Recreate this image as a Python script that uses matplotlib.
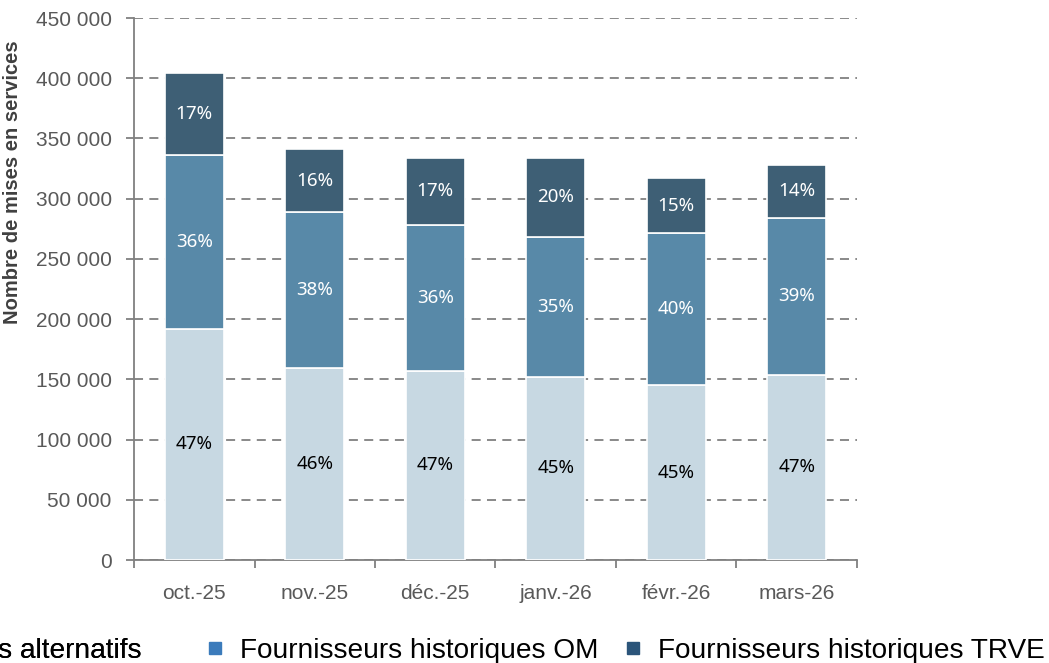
import numpy as np
import matplotlib
matplotlib.use("Agg")
import matplotlib.pyplot as plt
from matplotlib.lines import Line2D
from matplotlib.ticker import FuncFormatter, MultipleLocator

plt.rcParams['font.family'] = ['Liberation Sans', 'DejaVu Sans']

# Données (mises en services)
mois = ['oct.-25', 'nov.-25', 'déc.-25', 'janv.-26', 'févr.-26', 'mars-26']
alternatifs = [192000, 159000, 157000, 152000, 145000, 154000]
historiques_om = [144000, 130000, 121000, 116000, 126500, 130000]
historiques_trve = [68000, 52000, 56000, 66000, 45500, 44000]
pct_alt = ['47%', '46%', '47%', '45%', '45%', '47%']
pct_om = ['36%', '38%', '36%', '35%', '40%', '39%']
pct_trve = ['17%', '16%', '17%', '20%', '15%', '14%']

series = ['Fournisseurs alternatifs', 'Fournisseurs historiques OM',
          'Fournisseurs historiques TRVE']
couleurs_barres = ['#c7d8e2', '#5889a8', '#3e5f75']
couleurs_legende = ['#a9c4dc', '#3b7bbb', '#2b557a']
couleurs_texte = ['black', 'white', 'white']

fig = plt.figure(figsize=(10.49, 6.63), dpi=100)
ax = fig.add_axes([134/1049, 1 - 560/663, 723/1049, 542/663])

x = np.arange(len(mois))
bas = np.zeros(len(mois))
for valeurs, pcts, coul, ctxt in zip([alternatifs, historiques_om, historiques_trve],
                                     [pct_alt, pct_om, pct_trve],
                                     couleurs_barres, couleurs_texte):
    v = np.array(valeurs, dtype=float)
    ax.bar(x, v, bottom=bas, width=0.49, color=coul, edgecolor='white',
           linewidth=1.2, zorder=3)
    for xi, b, h, p in zip(x, bas, v, pcts):
        ax.text(xi, b + h / 2, p, ha='center', va='center', color=ctxt,
                fontsize=13.5, family=['Noto Sans', 'DejaVu Sans'], zorder=4)
    bas += v

ax.set_xlim(-0.5, len(mois) - 0.5)
ax.set_ylim(0, 450000)
ax.yaxis.set_major_locator(MultipleLocator(50000))
ax.yaxis.set_major_formatter(FuncFormatter(lambda v, p: f'{int(v):,}'.replace(',', ' ')))

ax.set_xticks(x)
ax.set_xticklabels(mois)
ax.set_xticks(np.arange(-0.5, len(mois)), minor=True)
ax.tick_params(axis='x', which='major', length=0, pad=17, labelsize=15, labelcolor='#595959')
ax.tick_params(axis='x', which='minor', length=6, width=1.3, color='#808080', direction='out')
ax.tick_params(axis='y', length=6, width=1.3, color='#808080', direction='out',
               pad=10, labelsize=15, labelcolor='#595959')

ax.grid(axis='y', color='#808080', linestyle=(0, (5, 3.5)), linewidth=1.3, zorder=0)
ax.set_axisbelow(True)
for s in ['top', 'right']:
    ax.spines[s].set_visible(False)
for s in ['left', 'bottom']:
    ax.spines[s].set_color('#808080')
    ax.spines[s].set_linewidth(1.3)

ax.set_ylabel('Nombre de mises en services', fontsize=14.5, fontweight='bold', color='#404040')
ax.yaxis.set_label_coords(-0.155, 0.697)

poignees = [Line2D([], [], linestyle='none', marker='s', markersize=8.5,
                   markerfacecolor=c, markeredgecolor=c) for c in couleurs_legende]
opts = dict(frameon=False, fontsize=20.2, handlelength=0.8, handletextpad=0.5,
            columnspacing=0.82, borderpad=0, borderaxespad=0)
# première entrée (coupée au bord gauche comme dans l'original)
leg1 = fig.legend(poignees[:1], series[:1], loc='center right',
                  bbox_to_anchor=(141/1049, 1 - 651/663), **opts)
fig.add_artist(leg1)
fig.legend(poignees[1:], series[1:], loc='center right',
           bbox_to_anchor=(1045/1049, 1 - 651/663), ncol=2, **opts)

fig.savefig('out.png', dpi=100)
